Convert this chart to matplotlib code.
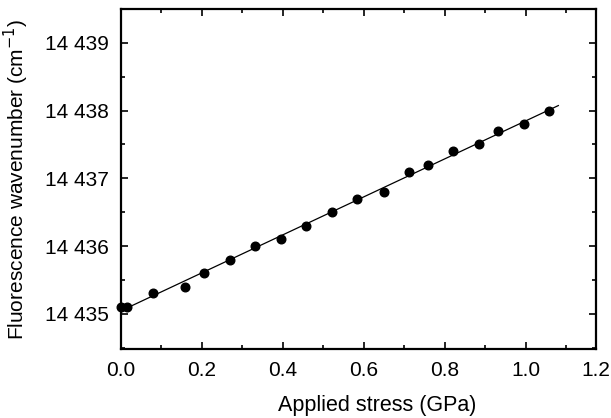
import numpy as np
import matplotlib
matplotlib.use("Agg")
import matplotlib.pyplot as plt
from matplotlib.ticker import MultipleLocator, FixedLocator

# Applied stress (GPa) and measured fluorescence wavenumber (cm^-1)
stress = [0.0, 0.015, 0.079, 0.158, 0.206, 0.268, 0.331, 0.394, 0.458, 0.522,
          0.584, 0.649, 0.711, 0.759, 0.821, 0.885, 0.931, 0.995, 1.058]
wavenumber = [14435.1, 14435.1, 14435.3, 14435.4, 14435.6, 14435.8, 14436.0,
              14436.1, 14436.3, 14436.5, 14436.7, 14436.8, 14437.1, 14437.2,
              14437.4, 14437.5, 14437.7, 14437.8, 14438.0]

# Range covered by the linear fit
fit_range = [0.015, 1.08]

x_ticks = [0.0, 0.2, 0.4, 0.6, 0.8, 1.0]
x_tick_labels = ["0.0", "0.2", "0.4", "0.6", "0.8", "1.0"]
y_ticks = [14435, 14436, 14437, 14438, 14439]
y_tick_labels = ["14 435", "14 436", "14 437", "14 438", "14 439"]

plt.rcParams["font.family"] = ["Liberation Sans", "DejaVu Sans"]

fig = plt.figure(figsize=(6.11, 4.18), dpi=100)
ax = fig.add_axes([121 / 611, 1 - 349 / 418, (596 - 121) / 611, (349 - 9) / 418])

xmax = 1.173
ax.set_xlim(0, xmax)
ax.set_ylim(14434.48, 14439.5)

coef = np.polyfit(stress, wavenumber, 1)
xf = np.array(fit_range)
ax.plot(xf, np.polyval(coef, xf), color="black", lw=0.9, zorder=2)
ax.plot(stress, wavenumber, "o", color="black", ms=6.2, zorder=3, clip_on=False)

ax.xaxis.set_major_locator(FixedLocator(x_ticks + [xmax]))
ax.set_xticklabels(x_tick_labels + ["1.2"])
ax.xaxis.set_minor_locator(MultipleLocator(0.1))
ax.yaxis.set_major_locator(FixedLocator(y_ticks))
ax.set_yticklabels(y_tick_labels)
ax.yaxis.set_minor_locator(MultipleLocator(0.5))

ax.tick_params(which="both", direction="in", top=True, right=True,
               width=1.2, labelsize=15, color="black")
ax.tick_params(which="major", length=5)
ax.tick_params(which="minor", length=3)
ax.tick_params(axis="y", which="major", pad=9)
ax.tick_params(axis="x", which="major", pad=9)
# hide the tick mark that would sit on the right spine
ax.xaxis.get_major_ticks()[-1].tick1line.set_visible(False)
ax.xaxis.get_major_ticks()[-1].tick2line.set_visible(False)

for s in ax.spines.values():
    s.set_linewidth(1.6)

ax.set_xlabel("Applied stress (GPa)", fontsize=15.5)
ax.set_ylabel("Fluorescence wavenumber (cm$^{-1}$)", fontsize=15)
ax.xaxis.set_label_coords(0.539, -0.135)
ax.yaxis.set_label_coords(-0.19, 0.5)

fig.savefig("out.png", dpi=100)
